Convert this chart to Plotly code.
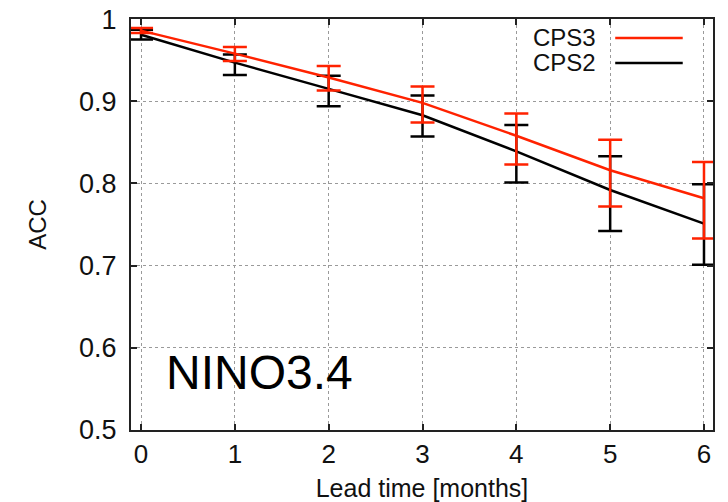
import plotly.graph_objects as go

lead = [0, 1, 2, 3, 4, 5, 6]
cps3 = [0.986, 0.958, 0.929, 0.898, 0.858, 0.816, 0.782]
cps3_hi = [0.989, 0.966, 0.943, 0.918, 0.885, 0.853, 0.826]
cps3_lo = [0.983, 0.949, 0.913, 0.874, 0.823, 0.772, 0.733]
cps2 = [0.981, 0.947, 0.915, 0.883, 0.839, 0.792, 0.751]
cps2_hi = [0.987, 0.957, 0.931, 0.907, 0.871, 0.833, 0.799]
cps2_lo = [0.975, 0.932, 0.894, 0.857, 0.801, 0.742, 0.701]
xticks = [0, 1, 2, 3, 4, 5, 6]
yticks = [0.5, 0.6, 0.7, 0.8, 0.9, 1.0]
ytick_text = ["0.5", "0.6", "0.7", "0.8", "0.9", "1"]

RED = "#ff2200"
BLACK = "#000000"
FONT = "Liberation Sans, Arial, sans-serif"

fig = go.Figure()


def add_series(name, y, hi, lo, color):
    fig.add_trace(go.Scatter(
        x=lead, y=y, mode="lines", name=name,
        line=dict(color=color, width=2.5),
        error_y=dict(type="data", symmetric=False,
                     array=[h - v for h, v in zip(hi, y)],
                     arrayminus=[v - l for v, l in zip(y, lo)],
                     color=color, thickness=2.5, width=12),
        showlegend=False, cliponaxis=False,
    ))


add_series("CPS2", cps2, cps2_hi, cps2_lo, BLACK)
add_series("CPS3", cps3, cps3_hi, cps3_lo, RED)

axis_common = dict(
    showline=True, linecolor="#222", linewidth=2, mirror="ticks",
    ticks="inside", ticklen=6, tickwidth=1.5, tickcolor="#222",
    showgrid=True, gridcolor="#9a9a9a", griddash="dot", gridwidth=1,
    zeroline=False, automargin=False, ticklabeloverflow="allow",
    tickfont=dict(family=FONT, size=26, color="#111"),
)

fig.update_xaxes(range=[-0.107, 6.096], tickvals=xticks,
                 title=dict(text="Lead time [months]", standoff=14,
                            font=dict(family=FONT, size=25, color="#111")),
                 **axis_common)
fig.update_yaxes(range=[0.4999, 1.0001], tickvals=yticks, ticktext=ytick_text,
                 ticklabelstandoff=7,
                 title=dict(text="ACC", standoff=26,
                            font=dict(family=FONT, size=24, color="#111")),
                 **axis_common)
fig.update_yaxes(tickfont=dict(family=FONT, size=27, color="#111"))

# legend (gnuplot style: text then line sample)
legend_items = [("CPS3", RED, 0.954), ("CPS2", BLACK, 0.893)]
for label, color, ypos in legend_items:
    fig.add_annotation(x=0.802, y=ypos, xref="paper", yref="paper",
                       text=label, showarrow=False, xanchor="right",
                       yanchor="middle",
                       font=dict(family=FONT, size=24, color="#111"))
    fig.add_shape(type="line", xref="paper", yref="paper",
                  x0=0.832, x1=0.948, y0=ypos, y1=ypos,
                  line=dict(color=color, width=2.5))

fig.add_annotation(x=0.22, y=0.139, xref="paper", yref="paper",
                   text="NINO3.4", showarrow=False, xanchor="center",
                   yanchor="middle", font=dict(family=FONT, size=48, color="#000"))

fig.update_layout(
    width=712, height=494,
    margin=dict(l=123, r=7, t=11, b=72),
    plot_bgcolor="white", paper_bgcolor="white",
)

fig.write_html("out.html")
